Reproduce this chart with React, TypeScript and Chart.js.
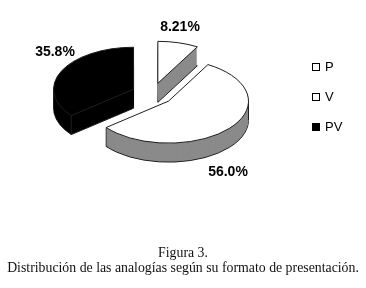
import React, { useEffect, useRef } from "react";
import { Chart, registerables } from "chart.js";

Chart.register(...registerables);

// ---- data ----
const categories = ["P", "V", "PV"];
const percentages = [8.21, 56.0, 35.8];
const valueLabels = ["8.21%", "56.0%", "35.8%"];
const captionLines = [
  "Figura 3.",
  "Distribución de las analogías según su formato de presentación.",
];

// ---- styles ----
const W = 366;
const H = 288;
const TOP_COLORS = ["#ffffff", "#ffffff", "#000000"];
const SIDE_COLORS = ["#8a8a8a", "#8a8a8a", "#000000"];
const EDGE = "#1e1e1e";
const TILT = 0.525;
const DEPTH = 19;
const EXPLODE = 21;
const RADIUS = 80;
const LABEL_POS: [number, number][] = [
  [180, 27],
  [228, 172],
  [55, 52],
];

const midOf = (a: any) => (a.startAngle + a.endAngle) / 2;

const pie3d = {
  id: "pie3d",
  beforeDatasetsDraw(chart: any) {
    const ctx = chart.ctx as CanvasRenderingContext2D;
    const meta = chart.getDatasetMeta(0);
    const base = ctx.getTransform();
    const origStroke = ctx.stroke;
    (ctx as any).stroke = function (...args: any[]) {
      this.save();
      this.setTransform(base);
      origStroke.apply(this, args);
      this.restore();
    };
    const paint = (arc: any, dy: number, over: any) => {
      const mid = midOf(arc);
      ctx.save();
      ctx.translate(0, dy);
      ctx.translate(arc.x, arc.y);
      ctx.scale(1, TILT);
      ctx.translate(-arc.x, -arc.y);
      ctx.translate(Math.cos(mid) * EXPLODE, Math.sin(mid) * EXPLODE);
      const orig = arc.options;
      arc.options = Object.assign({}, orig, over);
      arc.draw(ctx);
      arc.options = orig;
      ctx.restore();
    };
    const order = meta.data
      .map((_: any, i: number) => i)
      .sort((i: number, j: number) => Math.sin(midOf(meta.data[i])) - Math.sin(midOf(meta.data[j])));
    for (const i of order) {
      const arc = meta.data[i];
      const side = SIDE_COLORS[i];
      paint(arc, DEPTH, { backgroundColor: side, borderColor: EDGE, borderWidth: 1, offset: 0 });
      for (let d = DEPTH - 1; d >= 1; d--) {
        paint(arc, d, { backgroundColor: side, borderWidth: 0, offset: 0 });
      }
      // vertical edges on the visible front half
      const mid = midOf(arc);
      const ox = arc.x + Math.cos(mid) * EXPLODE;
      const oy = arc.y + Math.sin(mid) * EXPLODE * TILT;
      const angles = [arc.startAngle, arc.endAngle];
      for (const e of [0, Math.PI, 2 * Math.PI]) {
        if (e > arc.startAngle && e < arc.endAngle) angles.push(e);
      }
      ctx.save();
      ctx.strokeStyle = EDGE;
      ctx.lineWidth = 1;
      for (const a of angles) {
        if (Math.sin(a) < -0.05) continue;
        const px = ox + Math.cos(a) * arc.outerRadius;
        const py = oy + Math.sin(a) * arc.outerRadius * TILT;
        ctx.beginPath();
        ctx.moveTo(px, py);
        ctx.lineTo(px, py + DEPTH);
        origStroke.call(ctx);
      }
      ctx.restore();
      paint(arc, 0, { offset: 0 });
    }
    delete (ctx as any).stroke;
    return false;
  },
  afterDraw(chart: any) {
    const ctx = chart.ctx as CanvasRenderingContext2D;
    ctx.save();
    // value labels
    ctx.fillStyle = "#000";
    ctx.font = "bold 14px 'Liberation Sans', Arial, sans-serif";
    ctx.textAlign = "center";
    ctx.textBaseline = "middle";
    valueLabels.forEach((t, i) => {
      const [x, y] = LABEL_POS[i];
      ctx.fillText(t, x, y);
    });
    // legend
    ctx.font = "13px 'Liberation Sans', Arial, sans-serif";
    ctx.textAlign = "left";
    categories.forEach((c, i) => {
      const y = 67 + i * 30;
      ctx.fillStyle = TOP_COLORS[i];
      ctx.fillRect(312.5, y - 3.5, 7, 7);
      ctx.strokeStyle = "#000";
      ctx.lineWidth = 1;
      ctx.strokeRect(312.5, y - 3.5, 7, 7);
      ctx.fillStyle = "#000";
      ctx.fillText(c, 325, y + 0.5);
    });
    // caption
    ctx.textAlign = "center";
    ctx.textBaseline = "alphabetic";
    ctx.font = "13px 'Liberation Serif', serif";
    const w = ctx.measureText(captionLines[1]).width;
    const size = (13 * 352) / w;
    ctx.font = `${size.toFixed(2)}px 'Liberation Serif', serif`;
    ctx.fillStyle = "#111";
    ctx.fillText(captionLines[0], 183, 257);
    ctx.fillText(captionLines[1], 183, 272);
    ctx.restore();
  },
};

export default function App() {
  const ref = useRef<HTMLCanvasElement>(null);
  useEffect(() => {
    if (!ref.current) return;
    const chart = new Chart(ref.current, {
      type: "pie",
      data: {
        labels: categories,
        datasets: [
          {
            data: percentages,
            backgroundColor: TOP_COLORS,
            borderColor: EDGE,
            borderWidth: 1,
            radius: RADIUS,
          } as any,
        ],
      },
      options: {
        responsive: false,
        animation: false,
        layout: { padding: { left: 0, top: 0, right: 61, bottom: 100 } },
        plugins: {
          legend: { display: false },
          tooltip: { enabled: false },
          title: { display: false },
        },
      },
      plugins: [pie3d as any],
    });
    return () => chart.destroy();
  }, []);
  return (
    <div style={{ position: "absolute", left: 0, top: 0, width: W, height: H, background: "#fff" }}>
      <canvas ref={ref} width={W} height={H} style={{ display: "block" }} />
    </div>
  );
}
